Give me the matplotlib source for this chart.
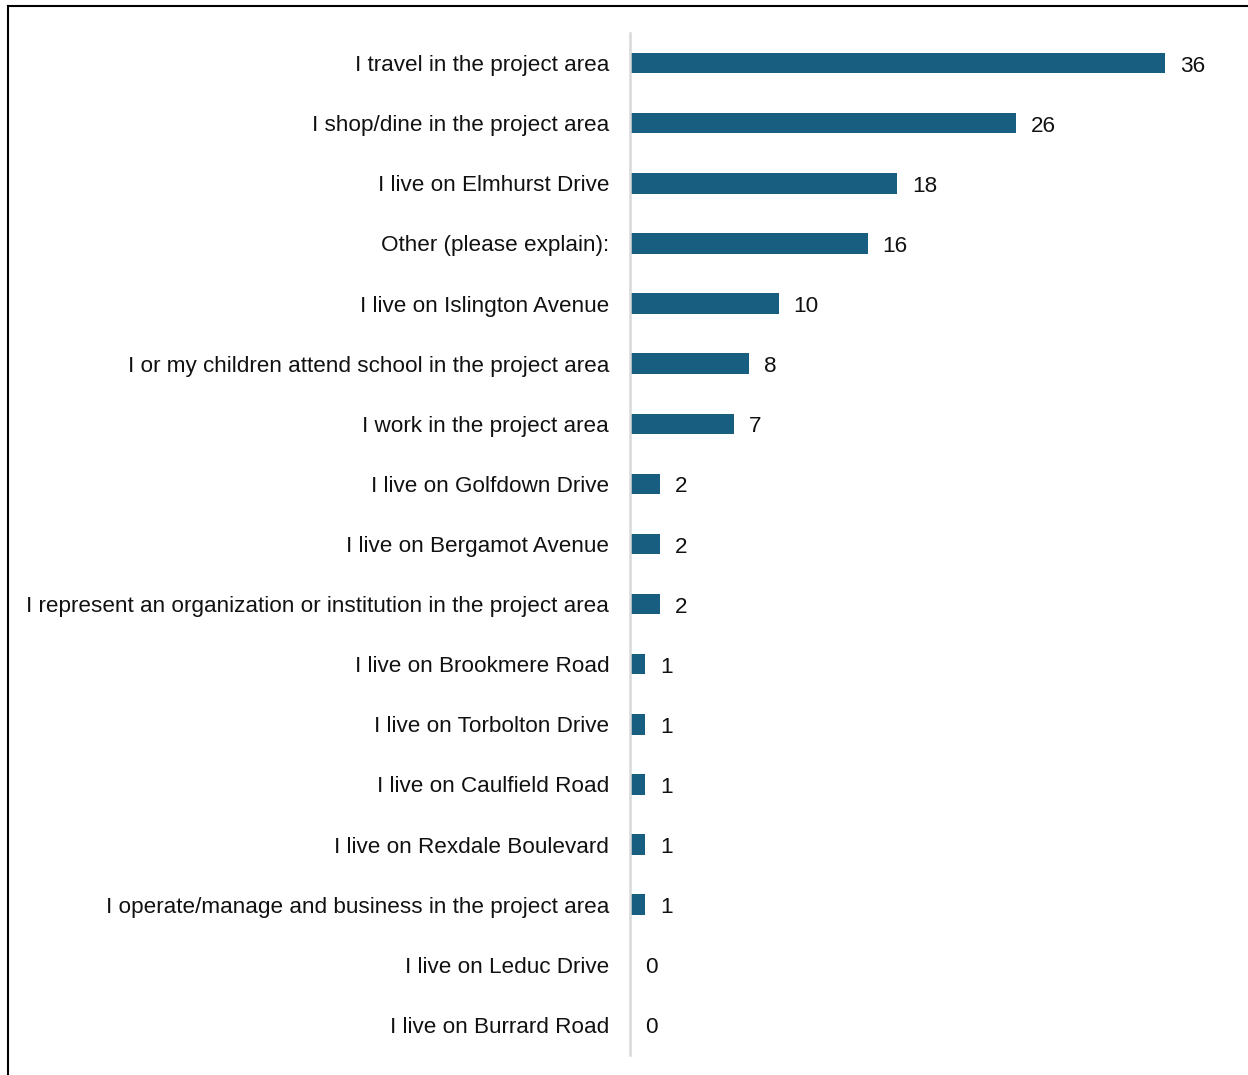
import matplotlib.pyplot as plt
from matplotlib.lines import Line2D

plt.rcParams['font.family'] = ['Liberation Sans', 'DejaVu Sans']

categories = [
    'I travel in the project area',
    'I shop/dine in the project area',
    'I live on Elmhurst Drive',
    'Other (please explain):',
    'I live on Islington Avenue',
    'I or my children attend school in the project area',
    'I work in the project area',
    'I live on Golfdown Drive',
    'I live on Bergamot Avenue',
    'I represent an organization or institution in the project area',
    'I live on Brookmere Road',
    'I live on Torbolton Drive',
    'I live on Caulfield Road',
    'I live on Rexdale Boulevard',
    'I operate/manage and business in the project area',
    'I live on Leduc Drive',
    'I live on Burrard Road',
]
counts = [36, 26, 18, 16, 10, 8, 7, 2, 2, 2, 1, 1, 1, 1, 1, 0, 0]

bar_color = '#185e80'

fig = plt.figure(figsize=(12.48, 10.75), dpi=100)
ax = fig.add_axes([0.5048, 0.0186, 0.4952, 0.9507])

y = list(range(len(categories)))
ax.barh(y, counts, height=0.34, color=bar_color)
ax.set_ylim(len(categories) - 0.5, -0.5)
ax.set_xlim(0, 41.6)

ax.set_yticks(y)
ax.set_yticklabels(categories, fontsize=16.2, color='#111111')
ax.tick_params(axis='y', length=0, pad=15)
ax.set_xticks([])

for s in ['top', 'right', 'bottom']:
    ax.spines[s].set_visible(False)
ax.spines['left'].set_color('#d9d9d9')
ax.spines['left'].set_linewidth(1.8)

# value labels
for yi, v in zip(y, counts):
    ax.annotate(str(v), xy=(v, yi), xytext=(15, -3), textcoords='offset pixels',
                va='center', ha='left', fontsize=16.2, color='#111111')

# outer frame (left and top edges)
fig.add_artist(Line2D([7.5 / 1248, 7.5 / 1248], [0, 1 - 5.5 / 1075],
                      transform=fig.transFigure, color='black', lw=1.5))
fig.add_artist(Line2D([7.5 / 1248, 1], [1 - 5.5 / 1075, 1 - 5.5 / 1075],
                      transform=fig.transFigure, color='black', lw=1.5))

fig.savefig('out.png', dpi=100)
